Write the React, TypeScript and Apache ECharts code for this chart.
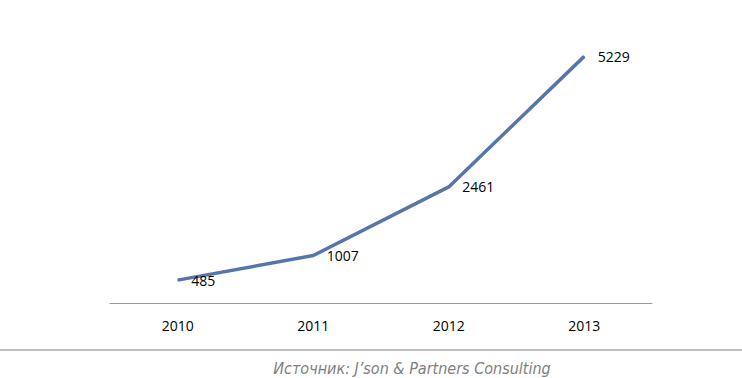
import React, { useEffect, useRef } from "react";
import * as echarts from "echarts";

const categories = ["2010", "2011", "2012", "2013"];
const values = [485, 1007, 2461, 5229];
const sourceText = "Источник: J’son & Partners Consulting";

export default function App() {
  const ref = useRef<HTMLDivElement>(null);
  useEffect(() => {
    const chart = echarts.init(ref.current!, null, { renderer: "svg" });
    chart.setOption({
      animation: false,
      backgroundColor: "#ffffff",
      grid: { left: 110, right: 90, top: 20, bottom: 75 },
      xAxis: {
        type: "category",
        data: categories,
        boundaryGap: true,
        axisLine: { show: true, lineStyle: { color: "#9a9a9a", width: 1 } },
        axisTick: { show: false },
        axisLabel: { color: "#000", fontSize: 14, fontFamily: "Open Sans, sans-serif", margin: 15 },
      },
      yAxis: {
        type: "value",
        min: 0,
        max: 6000,
        show: false,
        splitLine: { show: false },
      },
      series: [
        {
          type: "line",
          data: values,
          symbol: "circle",
          symbolSize: 1,
          showSymbol: true,
          itemStyle: { color: "#5676aa" },
          lineStyle: { color: "#5676aa", width: 3.5 },
          label: {
            show: true,
            position: "right",
            distance: 13,
            color: "#000",
            fontSize: 14,
            fontFamily: "Open Sans, sans-serif",
          },
        },
      ],
      graphic: [
        {
          type: "line",
          shape: { x1: 0, y1: 350, x2: 742, y2: 350 },
          style: { stroke: "#a8a8a8", lineWidth: 1.5 },
        },
        {
          type: "text",
          x: 412,
          y: 368,
          style: {
            text: sourceText,
            fill: "#7f7f7f",
            fontSize: 16,
            fontStyle: "italic",
            fontFamily: "Liberation Sans Narrow, DejaVu Sans Condensed, sans-serif",
            align: "center",
            verticalAlign: "middle",
          },
        },
      ],
    });
    return () => chart.dispose();
  }, []);
  return <div ref={ref} style={{ position: "absolute", left: 0, top: 0, width: 742, height: 378 }} />;
}
